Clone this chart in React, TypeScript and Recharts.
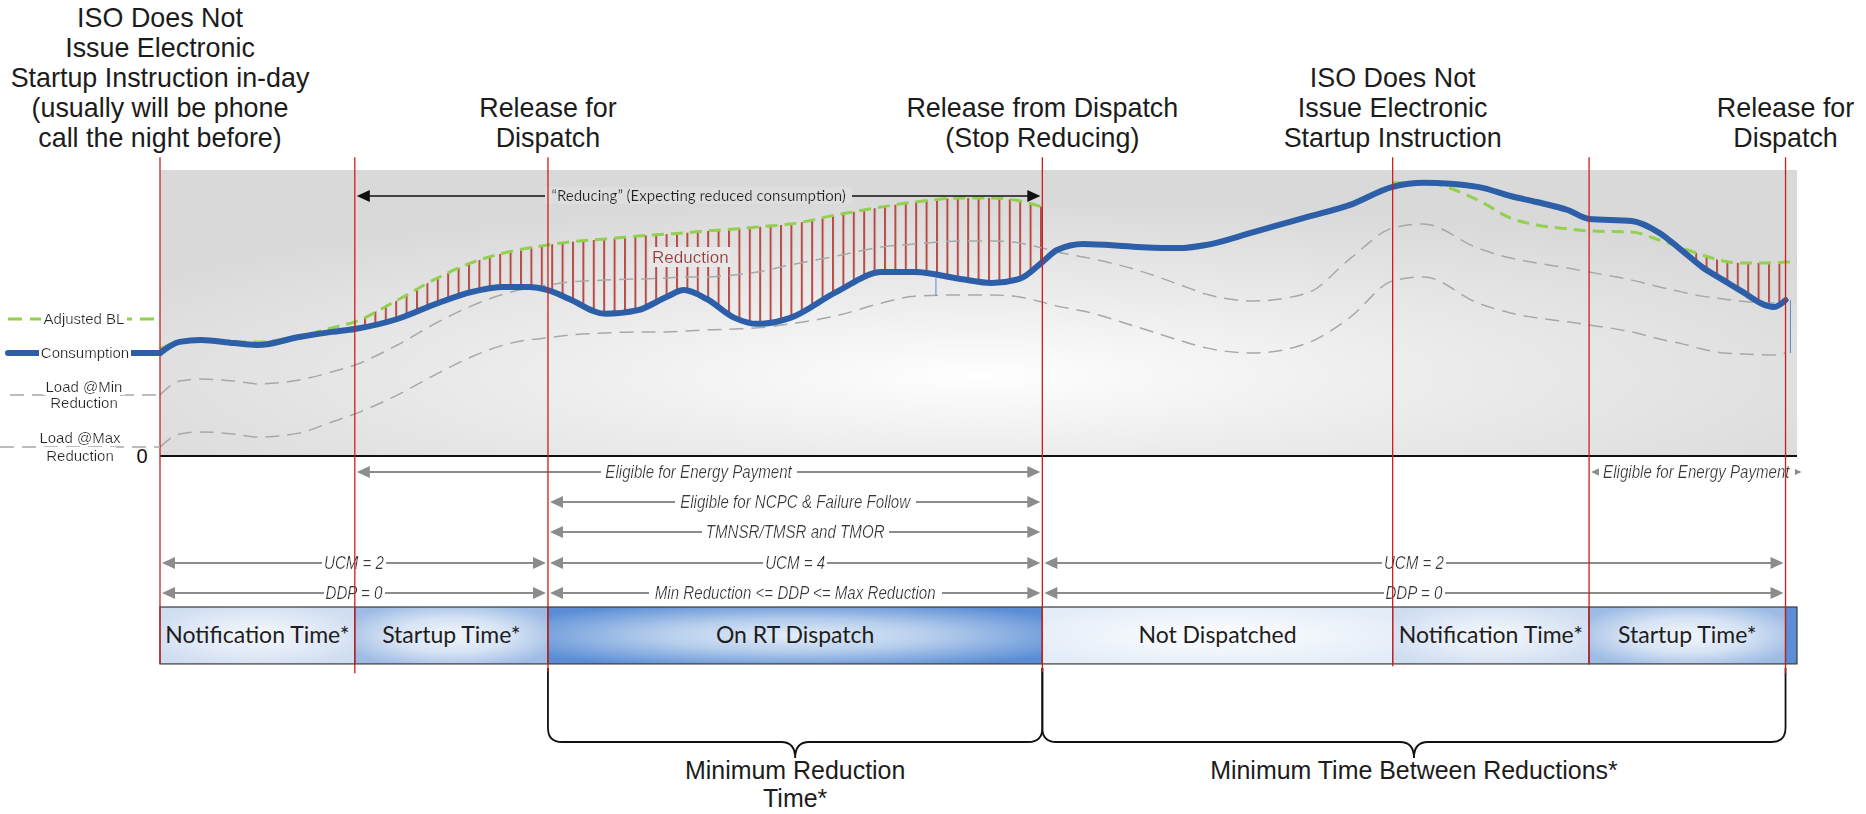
import {
  Area,
  ComposedChart,
  Line,
  ReferenceArea,
  ReferenceDot,
  ReferenceLine,
  XAxis,
  YAxis,
} from "recharts"

// time runs 0..100 across the plot, load runs 0..100 (0 = the axis line)
const T = [
  0, 1.2, 2.5, 4.5, 6, 8.5, 10.5, 11.9, 14.5, 17, 19, 21, 22.5, 23.7, 25, 27.2, 29.2, 31, 32, 33.4,
  35.1, 36.5, 38.5, 41.3, 44.1, 46.1, 48.9, 50.8, 52.5, 53.9, 54.8, 56.4, 59.7, 62.2, 63.9, 66.8,
  70.1, 72.7, 75.3, 77.2, 80.5, 82.5, 84.1, 86, 87.3, 89.9, 91.6, 93, 94.2, 95.5, 96.5, 98.6, 99.3,
  100,
]

const CONSUMPTION = [
  36.0, 39.9, 40.6, 39.5, 38.8, 41.6, 43.4, 44.4, 47.9, 53.5, 57.3, 59.1, 59.1, 58.0, 54.9, 49.7,
  51.0, 55.8, 58.0, 54.9, 48.3, 46.2, 48.3, 57.3, 64.3, 64.3, 61.9, 60.5, 61.9, 67.8, 72.0, 74.1,
  73.1, 72.7, 73.8, 78.3, 83.6, 87.8, 94.1, 95.5, 94.1, 90.9, 88.8, 86.0, 82.9, 82.2, 78.0, 71.7,
  66.1, 61.5, 58.0, 52.1, 54.5, null,
]

const ADJUSTED_BL = [
  37.4, 40.2, 40.9, 39.9, 39.9, 42.0, 44.8, 46.9, 54.5, 62.4, 67.5, 71.0, 72.7, 73.8, 74.8, 75.9,
  76.9, 77.6, 78.0, 78.7, 79.4, 80.1, 81.1, 84.3, 87.1, 88.8, 90.2, 90.2, 89.2, 87.1, null, null,
  null, null, null, null, null, null, 95.5, 95.5, 89.5, 83.2, 80.8, 79.4, 78.7, 78.3, 75.5, 72.7,
  70.3, 68.2, 67.5, 67.5, 67.8, 67.8,
]

const LOAD_MIN_RED = [
  21.3, 26.2, 26.9, 26.2, 25.2, 26.6, 29.4, 31.8, 38.8, 46.9, 52.4, 56.6, 58.7, 59.8, 60.8, 61.5,
  61.9, 62.2, 62.6, 62.6, 63.3, 64.3, 66.8, 69.9, 73.1, 74.1, 75.2, 75.2, 74.5, 72.7, 71.3, 69.6,
  65.0, 60.1, 56.6, 54.2, 57.0, 69.0, 79.7, 81.1, 72.7, 69.2, 67.5, 65.7, 64.3, 61.5, 59.1, 57.3,
  55.9, 54.9, 54.2, 53.5, 54.5, null,
]

const LOAD_MAX_RED = [
  3.1, 7.7, 8.4, 7.7, 6.6, 8.0, 11.9, 14.7, 21.3, 29.0, 34.6, 38.8, 40.6, 41.3, 42.3, 43.0, 43.4,
  43.4, 43.7, 44.1, 44.4, 44.8, 46.2, 49.0, 53.5, 55.9, 56.3, 56.3, 55.6, 53.8, 52.4, 50.7, 45.1,
  40.6, 37.8, 36.0, 39.5, 48.5, 61.2, 62.6, 53.5, 50.0, 48.3, 46.9, 45.8, 43.4, 40.9, 39.2, 37.4,
  36.0, 35.7, 35.3, 36.0, null,
]

// stretches where consumption sits under the adjusted baseline (hatched)
const REDUCTION_WINDOWS = [
  [11.9, 53.9],
  [93, 99.3],
]

const EVENTS = [0, 11.9, 23.7, 53.9, 75.3, 87.3, 99.3]
const EVENT_TITLES = [
  [
    "ISO Does Not",
    "Issue Electronic",
    "Startup Instruction in-day",
    "(usually will be phone",
    "call the night before)",
  ],
  [],
  ["Release for", "Dispatch"],
  ["Release from Dispatch", "(Stop Reducing)"],
  ["ISO Does Not", "Issue Electronic", "Startup Instruction"],
  [],
  ["Release for", "Dispatch"],
]

const PHASES = [
  "Notification Time*",
  "Startup Time*",
  "On RT Dispatch",
  "Not Dispatched",
  "Notification Time*",
  "Startup Time*",
  "",
]
const PHASE_EDGES = [0, 11.9, 23.7, 53.9, 75.3, 87.3, 99.3, 100]

const SPANS = [
  { row: 0, from: 11.9, to: 53.9, label: "Eligible for Energy Payment" },
  { row: 0, from: 87.3, to: 100.4, label: "Eligible for Energy Payment" },
  { row: 1, from: 23.7, to: 53.9, label: "Eligible for NCPC & Failure Follow" },
  { row: 2, from: 23.7, to: 53.9, label: "TMNSR/TMSR and TMOR" },
  { row: 3, from: 0, to: 23.7, label: "UCM = 2" },
  { row: 3, from: 23.7, to: 53.9, label: "UCM = 4" },
  { row: 3, from: 53.9, to: 99.3, label: "UCM = 2" },
  { row: 4, from: 0, to: 23.7, label: "DDP = 0" },
  { row: 4, from: 23.7, to: 53.9, label: "Min Reduction <= DDP <= Max Reduction" },
  { row: 4, from: 53.9, to: 99.3, label: "DDP = 0" },
]

const BRACES = [
  { from: 23.7, to: 53.9, label: ["Minimum Reduction", "Time*"] },
  { from: 53.9, to: 99.3, label: ["Minimum Time Between Reductions*"] },
]

const REDUCING = { from: 11.9, to: 53.9, label: "\u201cReducing\u201d (Expecting reduced consumption)" }

// ---- layout / style -------------------------------------------------------
const W = 1866
const H = 814
const MARGIN = { top: 170, right: 69, bottom: 358, left: 160 }
const ROW_Y = [-5.6, -16.1, -26.6, -37.4, -47.9]
const EVENT_TOP = 104.5
const EVENT_BOTTOM = [-72.7, -76, -75.5, -75.5, -73.5, -72.7, -76]
const BOX_Y: [number, number] = [-72.7, -52.8]
const BRACE_Y: [number, number] = [-74.1, -105.6]
const REDUCING_Y = 90.9

const ARIAL = "'Liberation Sans', Arial, sans-serif"
const CALIBRI = "Lato, 'Open Sans', sans-serif"
const BLUE = "#2c5fa8"
const GREEN = "#92d050"
const GRAY_DASH = "#a8a8a8"
const RED = "#d21c1c"
const TITLE_SIZE = 28
const TITLE_STEP = 30
const PHASE_FILL = [
  "url(#ph-notif)",
  "url(#ph-start)",
  "url(#ph-rt)",
  "url(#ph-idle)",
  "url(#ph-notif)",
  "url(#ph-start)",
  "#5b8ed6",
]

const rows = T.map((t, i) => {
  const inWindow = REDUCTION_WINDOWS.some(([a, b]) => t >= a && t <= b)
  return {
    t,
    cons: CONSUMPTION[i],
    adj: ADJUSTED_BL[i],
    minRed: LOAD_MIN_RED[i],
    maxRed: LOAD_MAX_RED[i],
    red: inWindow && CONSUMPTION[i] != null && ADJUSTED_BL[i] != null ? [CONSUMPTION[i], ADJUSTED_BL[i]] : null,
  }
})

const NarrowLines = ({
  x,
  baseline,
  lines,
  size = TITLE_SIZE,
  step = TITLE_STEP,
}: {
  x: number
  baseline: number
  lines: string[]
  size?: number
  step?: number
}) => (
  <g>
    {lines.map((ln, i) => (
      <text
        key={i}
        transform={`translate(${x} ${baseline + i * step}) scale(0.96 1)`}
        textAnchor="middle"
        fontFamily={ARIAL}
        fontSize={size}
        fill="#1c1c1c"
      >
        {ln}
      </text>
    ))}
  </g>
)

const EventMark = (p: any, title: string[]) => {
  const x = p.x1 ?? p.x
  const top = Math.min(p.y1, p.y2)
  const bottom = Math.max(p.y1, p.y2)
  return (
    <g>
      <line x1={x} x2={x} y1={top} y2={bottom} stroke={RED} strokeWidth={1.3} />
      {title.length > 0 && (
        <NarrowLines x={x} baseline={top - 10 - (title.length - 1) * TITLE_STEP} lines={title} />
      )}
    </g>
  )
}

const SpanArrow = (
  p: any,
  label: string,
  opts: { stroke: string; text: string; font: string; size: number; italic: boolean; filter: string; sx: number; width: number },
) => {
  const a = Math.min(p.x1, p.x2) + 2
  const b = Math.max(p.x1, p.x2) - 2
  const y = p.y1
  const mid = (a + b) / 2
  const hd = 13
  return (
    <g>
      <line x1={a + hd - 2} x2={b - hd + 2} y1={y} y2={y} stroke={opts.stroke} strokeWidth={opts.width} />
      <polygon points={`${a},${y} ${a + hd},${y - 6} ${a + hd},${y + 6}`} fill={opts.stroke} />
      <polygon points={`${b},${y} ${b - hd},${y - 6} ${b - hd},${y + 6}`} fill={opts.stroke} />
      <text
        transform={`translate(${mid} ${y + opts.size * 0.34}) scale(${opts.sx} 1)`}
        textAnchor="middle"
        fontFamily={opts.font}
        fontSize={opts.size}
        fontStyle={opts.italic ? "italic" : "normal"}
        fill={opts.text}
        filter={opts.filter}
      >
        {label}
      </text>
    </g>
  )
}

const PhaseBox = (p: any, label: string, fill: string) => (
  <g>
    <rect x={p.x} y={p.y} width={p.width} height={p.height} fill={fill} stroke="#3a3a3a" strokeWidth={1.2} />
    {label && (
      <text
        x={p.x + p.width / 2}
        y={p.y + p.height / 2 + 8}
        textAnchor="middle"
        fontFamily={CALIBRI}
        fontSize={23}
        fill="#1e1e1e"
      >
        {label}
      </text>
    )}
  </g>
)

const Brace = (p: any, label: string[]) => {
  const l = p.x
  const r = p.x + p.width
  const top = p.y
  const tip = p.y + p.height
  const bar = tip - 16
  const c = (l + r) / 2
  const k = 14
  const d = `M${l},${top} L${l},${bar - k} Q${l},${bar} ${l + k},${bar} L${c - 14},${bar} Q${c},${bar} ${c},${tip} Q${c},${bar} ${c + 14},${bar} L${r - k},${bar} Q${r},${bar} ${r},${bar - k} L${r},${top}`
  return (
    <g>
      <path d={d} fill="none" stroke="#111" strokeWidth={1.8} />
      <NarrowLines x={c} baseline={tip + 21} lines={label} size={26} step={28} />
    </g>
  )
}

const LegendKey = () => (
  <svg width={175} height={H} style={{ position: "absolute", left: 0, top: 0, pointerEvents: "none" }}>
    <line x1={8} x2={160} y1={319} y2={319} stroke={GREEN} strokeWidth={3} strokeDasharray="14 8" />
    <line x1={8} x2={160} y1={353} y2={353} stroke={BLUE} strokeWidth={6} strokeLinecap="round" />
    <line x1={10} x2={160} y1={395} y2={395} stroke={GRAY_DASH} strokeWidth={1.5} strokeDasharray="14 8" />
    <line x1={0} x2={160} y1={447} y2={447} stroke={GRAY_DASH} strokeWidth={1.5} strokeDasharray="14 8" />
    <g fontFamily={ARIAL} fontSize={15} fill="#262626" textAnchor="middle">
      <text x={84} y={324} filter="url(#bgWhite)">Adjusted BL</text>
      <text x={85} y={358} filter="url(#bgWhite)">Consumption</text>
      <text x={84} y={392} filter="url(#bgWhite)">Load @Min</text>
      <text x={84} y={408} filter="url(#bgWhite)">Reduction</text>
      <text x={80} y={443} filter="url(#bgWhite)">Load @Max</text>
      <text x={80} y={461} filter="url(#bgWhite)">Reduction</text>
    </g>
    <text x={142} y={463} textAnchor="middle" fontFamily={ARIAL} fontSize={20} fill="#111">
      0
    </text>
  </svg>
)

const Defs = () => (
  <svg width={0} height={0} style={{ position: "absolute" }}>
    <defs>
      <radialGradient id="plotBg" cx="0.5" cy="0.72" r="0.62">
        <stop offset="0" stopColor="#ffffff" />
        <stop offset="0.15" stopColor="#f8f8f8" />
        <stop offset="0.45" stopColor="#ececec" />
        <stop offset="0.8" stopColor="#e0e0e0" />
        <stop offset="1" stopColor="#d9d9d9" />
      </radialGradient>
      <pattern id="hatch" patternUnits="userSpaceOnUse" width="10.4" height="8">
        <rect x="0" y="0" width="2" height="8" fill="#b5443e" />
      </pattern>
      <radialGradient id="ph-notif" cx="0.5" cy="0.5" r="0.6">
        <stop offset="0" stopColor="#f6f9fd" />
        <stop offset="1" stopColor="#cfddf1" />
      </radialGradient>
      <radialGradient id="ph-start" cx="0.5" cy="0.5" r="0.6">
        <stop offset="0" stopColor="#f1f6fc" />
        <stop offset="0.5" stopColor="#d6e3f4" />
        <stop offset="1" stopColor="#9dbbe4" />
      </radialGradient>
      <radialGradient id="ph-rt" cx="0.5" cy="0.5" r="0.62">
        <stop offset="0" stopColor="#e4eef9" />
        <stop offset="0.45" stopColor="#b5cdec" />
        <stop offset="1" stopColor="#5a8dd5" />
      </radialGradient>
      <radialGradient id="ph-idle" cx="0.5" cy="0.5" r="0.6">
        <stop offset="0" stopColor="#fdfeff" />
        <stop offset="1" stopColor="#e3ecf7" />
      </radialGradient>
      <filter id="bgWhite" x="-0.02" y="0.05" width="1.04" height="0.9">
        <feFlood floodColor="#ffffff" />
        <feComposite in="SourceGraphic" operator="over" />
      </filter>
      <filter id="bgGray" x="-0.02" y="0.05" width="1.04" height="0.9">
        <feFlood floodColor="#dedede" />
        <feComposite in="SourceGraphic" operator="over" />
      </filter>
      <filter id="bgLight" x="-0.03" y="0" width="1.06" height="1">
        <feFlood floodColor="#e8e6e6" />
        <feComposite in="SourceGraphic" operator="over" />
      </filter>
    </defs>
  </svg>
)

export default function App() {
  return (
    <div style={{ position: "absolute", left: 0, top: 0, width: W, height: H, background: "#fff", overflow: "hidden" }}>
      <Defs />
      <ComposedChart width={W} height={H} data={rows} margin={MARGIN}>
        <XAxis dataKey="t" type="number" domain={[0, 100]} allowDataOverflow hide />
        <YAxis type="number" domain={[0, 100]} allowDataOverflow hide />

        <ReferenceArea x1={0} x2={100} y1={0} y2={100} fill="url(#plotBg)" fillOpacity={1} stroke="none" zIndex={-100} />

        <Area
          dataKey="red"
          type="monotone"
          fill="url(#hatch)"
          fillOpacity={0.95}
          stroke="none"
          isAnimationActive={false}
          activeDot={false}
        />
        <Line dataKey="maxRed" type="monotone" stroke={GRAY_DASH} strokeWidth={1.5} strokeDasharray="14 8" dot={false} isAnimationActive={false} />
        <Line dataKey="minRed" type="monotone" stroke={GRAY_DASH} strokeWidth={1.5} strokeDasharray="14 8" dot={false} isAnimationActive={false} />
        <Line dataKey="adj" type="monotone" stroke={GREEN} strokeWidth={3} strokeDasharray="12 7" dot={false} isAnimationActive={false} />
        <Line dataKey="cons" type="monotone" stroke={BLUE} strokeWidth={6} dot={false} strokeLinecap="round" isAnimationActive={false} />

        <ReferenceLine segment={[{ x: 47.4, y: 62.2 }, { x: 47.4, y: 55.9 }]} stroke="#5b8bd0" strokeWidth={1} zIndex={450} />
        <ReferenceLine segment={[{ x: 99.6, y: 54.5 }, { x: 99.6, y: 36 }]} stroke="#5b8bd0" strokeWidth={1} zIndex={450} />

        <ReferenceDot
          x={32.4}
          y={69.6}
          r={1}
          zIndex={450}
          shape={(p: any) => (
            <text x={p.cx} y={p.cy + 6} textAnchor="middle" fontFamily={ARIAL} fontSize={17} fill="#9b3b36" filter="url(#bgLight)">
              Reduction
            </text>
          )}
        />

        <ReferenceLine
          segment={[{ x: REDUCING.from, y: REDUCING_Y }, { x: REDUCING.to, y: REDUCING_Y }]}
          ifOverflow="visible"
          zIndex={450}
          shape={(p: any) =>
            SpanArrow(p, REDUCING.label, {
              stroke: "#111",
              text: "#222",
              font: CALIBRI,
              size: 15,
              italic: false,
              filter: "url(#bgGray)",
              sx: 1,
              width: 1.5,
            })
          }
        />

        <ReferenceLine y={0} stroke="#111" strokeWidth={2} zIndex={460} />

        {PHASES.map((label, i) => (
          <ReferenceArea
            key={`ph${i}`}
            x1={PHASE_EDGES[i]}
            x2={PHASE_EDGES[i + 1]}
            y1={BOX_Y[0]}
            y2={BOX_Y[1]}
            ifOverflow="visible"
            zIndex={470}
            shape={(p: any) => PhaseBox(p, label, PHASE_FILL[i])}
          />
        ))}

        {BRACES.map((b, i) => (
          <ReferenceArea
            key={`br${i}`}
            x1={b.from}
            x2={b.to}
            y1={BRACE_Y[0]}
            y2={BRACE_Y[1]}
            ifOverflow="visible"
            zIndex={470}
            shape={(p: any) => Brace(p, b.label)}
          />
        ))}

        {SPANS.map((s, i) => (
          <ReferenceLine
            key={`sp${i}`}
            segment={[{ x: s.from, y: ROW_Y[s.row] }, { x: s.to, y: ROW_Y[s.row] }]}
            ifOverflow="visible"
            zIndex={480}
            shape={(p: any) =>
              SpanArrow(p, s.label, {
                stroke: "#8c8c8c",
                text: "#383838",
                font: ARIAL,
                size: 18,
                italic: true,
                filter: "url(#bgWhite)",
                sx: 0.84,
                width: 2,
              })
            }
          />
        ))}

        {EVENTS.map((t, i) => (
          <ReferenceLine
            key={`ev${i}`}
            segment={[{ x: t, y: EVENT_TOP }, { x: t, y: EVENT_BOTTOM[i] }]}
            ifOverflow="visible"
            zIndex={490}
            shape={(p: any) => EventMark(p, EVENT_TITLES[i])}
          />
        ))}
      </ComposedChart>
      <LegendKey />
    </div>
  )
}
